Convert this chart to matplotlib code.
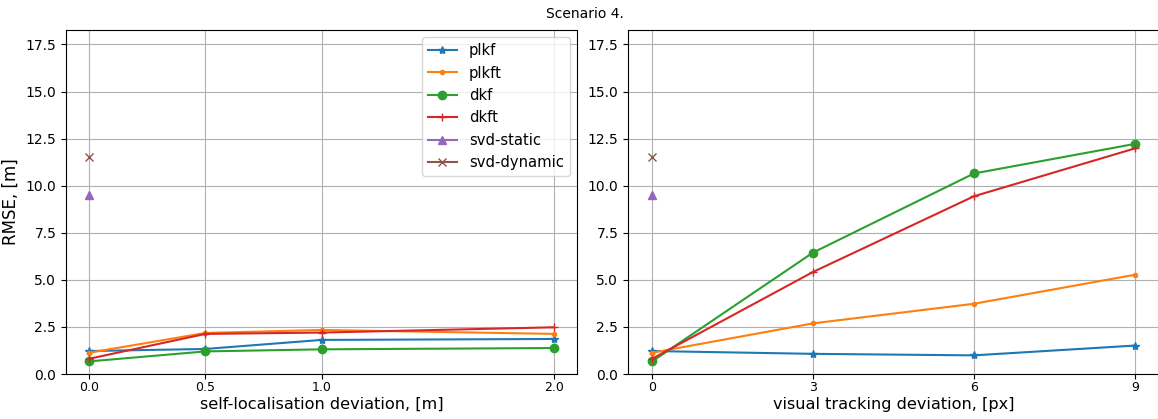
import numpy as np
import matplotlib.pyplot as plt

# データ
loc_dev = [0.0, 0.5, 1.0, 2.0]
loc_plkf = [1.22, 1.33, 1.81, 1.86]
loc_plkft = [1.13, 2.18, 2.34, 2.13]
loc_dkf = [0.67, 1.2, 1.31, 1.38]
loc_dkft = [0.81, 2.13, 2.2, 2.48]

track_dev = [0, 3, 6, 9]
track_plkf = [1.22, 1.07, 0.99, 1.51]
track_plkft = [1.13, 2.69, 3.73, 5.27]
track_dkf = [0.67, 6.45, 10.65, 12.22]
track_dkft = [0.81, 5.42, 9.44, 11.98]

svd_static = 9.52
svd_dynamic = 11.55

fig = plt.figure(figsize=(11.58, 4.19), dpi=100)
W, H = 1158, 419
ax1 = fig.add_axes([66/W, (H-374)/H, 511/W, 344/H])
ax2 = fig.add_axes([628/W, (H-374)/H, 531/W, 344/H])

for ax, x, ys in [(ax1, loc_dev, [loc_plkf, loc_plkft, loc_dkf, loc_dkft]),
                  (ax2, track_dev, [track_plkf, track_plkft, track_dkf, track_dkft])]:
    ax.plot(x, ys[0], marker='*', label='plkf')
    ax.plot(x, ys[1], marker='.', label='plkft')
    ax.plot(x, ys[2], marker='o', label='dkf')
    ax.plot(x, ys[3], marker='+', label='dkft')
    ax.plot([x[0]], [svd_static], marker='^', linestyle='-', label='svd-static')
    ax.plot([x[0]], [svd_dynamic], marker='x', linestyle='-', label='svd-dynamic')
    ax.set_xticks(x)
    ax.set_ylim(0, 18.27)
    ax.tick_params(axis='x', labelsize=9, pad=1.5)
    ax.grid(True)

ax1.set_xlabel('self-localisation deviation, [m]', fontsize=11.6, labelpad=2)
ax2.set_xlabel('visual tracking deviation, [px]', fontsize=11.6, labelpad=2)
ax1.set_ylabel('RMSE, [m]', fontsize=12)
ax1.legend(fontsize=10.6)
fig.suptitle('Scenario 4.', fontsize=10, x=0.505, y=0.983)

plt.savefig('out.png', dpi=100)
